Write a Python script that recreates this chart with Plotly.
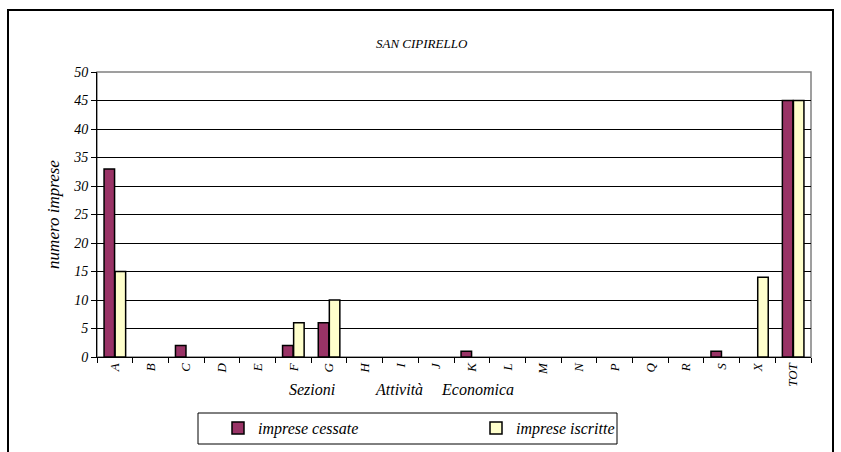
import plotly.graph_objects as go

categories = ["A", "B", "C", "D", "E", "F", "G", "H", "I", "J", "K", "L", "M", "N", "P", "Q", "R", "S", "X", "TOT"]
cessate = [33, 0, 2, 0, 0, 2, 6, 0, 0, 0, 1, 0, 0, 0, 0, 0, 0, 1, 0, 45]
iscritte = [15, 0, 0, 0, 0, 6, 10, 0, 0, 0, 0, 0, 0, 0, 0, 0, 0, 0, 14, 45]
y_ticks = [0, 5, 10, 15, 20, 25, 30, 35, 40, 45, 50]

FONT = "Liberation Serif"

W, H = 841, 452
L, R, T, B = 97, 30, 72, 95
pw, ph = W - L - R, H - T - B

def px(x):
    return (x - L) / pw

def py(y):
    return (H - B - y) / ph

def hide_zero(vals):
    return [v if v else None for v in vals]

def f(size):
    return dict(family=FONT, size=size, style="italic", color="black")

fig = go.Figure()
fig.add_trace(go.Bar(x=categories, y=hide_zero(cessate), name="imprese cessate",
                     marker=dict(color="#993366", line=dict(color="black", width=1.5))))
fig.add_trace(go.Bar(x=categories, y=hide_zero(iscritte), name="imprese iscritte",
                     marker=dict(color="#FFFFCC", line=dict(color="black", width=1.5))))

fig.update_layout(
    width=W, height=H,
    margin=dict(l=L, r=R, t=T, b=B, autoexpand=False),
    paper_bgcolor="white", plot_bgcolor="white",
    barmode="group", bargap=0.38, bargroupgap=0.05,
    font=f(13),
    title=dict(text="SAN CIPIRELLO", x=px(455), xanchor="center",
               y=1 - 43 / H, yanchor="middle", font=f(13)),
    showlegend=True,
    legend=dict(orientation="h", x=px(218), xanchor="left", y=py(428), yanchor="middle",
                bgcolor="rgba(0,0,0,0)", borderwidth=0, entrywidth=213, entrywidthmode="pixels",
                font=f(16)),
    xaxis=dict(type="category", tickangle=-90, ticks="outside", ticklen=5, tickcolor="black",
               tickson="boundaries", showline=True, linecolor="black", linewidth=1,
               showgrid=False, tickfont=f(13), automargin=False),
    yaxis=dict(range=[0, 50], tickvals=y_ticks, ticks="outside", ticklen=5, tickcolor="black",
               showline=True, linecolor="black", linewidth=1, automargin=False,
               showgrid=True, gridcolor="black", gridwidth=1,
               tickfont=f(14), zeroline=False,
               title=dict(text="numero imprese", font=f(17), standoff=9)),
    shapes=[
        dict(type="rect", xref="paper", yref="paper", x0=0, x1=1, y0=0, y1=1,
             line=dict(color="#808080", width=1.5), layer="below"),
        dict(type="rect", xref="paper", yref="paper", x0=px(8), x1=px(833), y0=py(10), y1=py(470),
             line=dict(color="black", width=2)),
        dict(type="rect", xref="paper", yref="paper", x0=px(198), x1=px(617), y0=py(413), y1=py(444),
             line=dict(color="black", width=1)),
    ],
    annotations=[
        dict(text="Sezioni", xref="paper", yref="paper", x=px(312), y=py(389),
             xanchor="center", yanchor="middle", showarrow=False, font=f(16)),
        dict(text="Attività", xref="paper", yref="paper", x=px(399), y=py(389),
             xanchor="center", yanchor="middle", showarrow=False, font=f(16)),
        dict(text="Economica", xref="paper", yref="paper", x=px(477), y=py(389),
             xanchor="center", yanchor="middle", showarrow=False, font=f(16)),
    ],
)

fig.write_html("out.html", config={"displayModeBar": False},
               post_script="document.body.style.margin='0';")
